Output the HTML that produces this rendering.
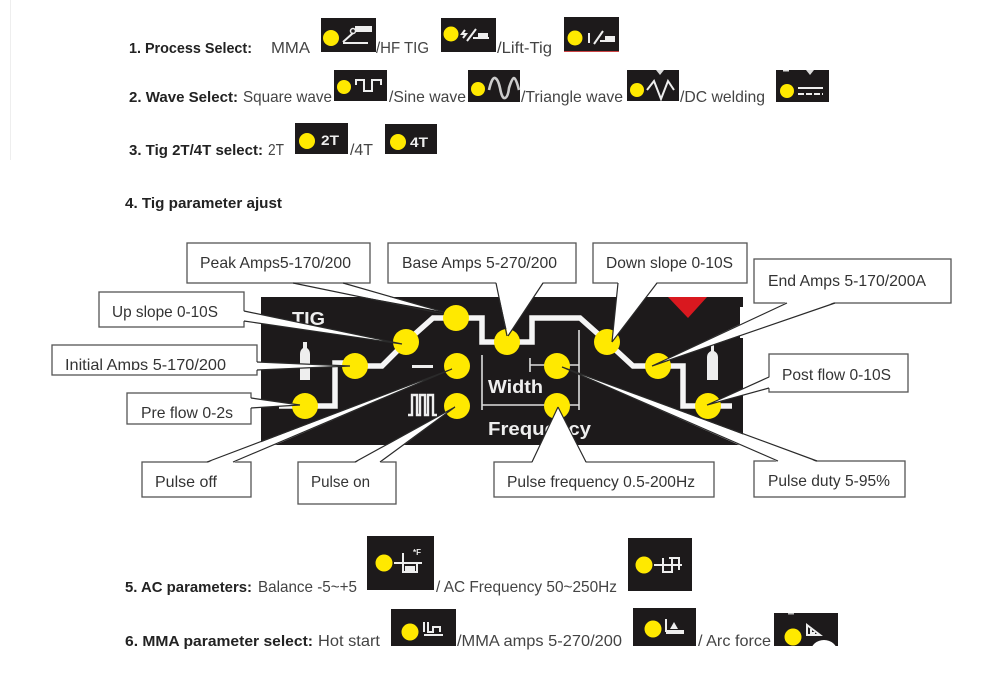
<!DOCTYPE html>
<html><head><meta charset="utf-8"><style>
html,body{margin:0;padding:0;background:#fff;width:1000px;height:690px;overflow:hidden}
svg{display:block;filter:blur(0.35px)}
text{font-family:"Liberation Sans",sans-serif}
.r{font-size:16px;fill:#444}
.b{font-size:15px;font-weight:bold;fill:#222}
.l{font-size:16px;fill:#333}
.k{fill:#1d1a1b}
.y{fill:#ffe900}
.box{fill:#fff;stroke:#555;stroke-width:1.3}
.w{fill:#fff;stroke:none}
.p{fill:none;stroke:#2a2a2a;stroke-width:1.2}
.s{fill:none;stroke:#eee;stroke-width:2}
.g{font-weight:bold;fill:#eee}
</style></head><body>
<svg width="1000" height="690" viewBox="0 0 1000 690" xmlns="http://www.w3.org/2000/svg">
<rect x="10" y="0" width="1" height="160" fill="#eee"/>

<!-- Header rows -->
<text class="b" x="129" y="53" textLength="123" lengthAdjust="spacingAndGlyphs">1. Process Select:</text>
<text class="r" x="271" y="53" textLength="39" lengthAdjust="spacingAndGlyphs">MMA</text>
<rect class="k" x="321" y="18" width="55" height="34"/><circle class="y" cx="331" cy="38" r="8"/>
<path class="s" d="M343 43h25M343 42l10-9"/><rect x="355" y="26" width="17" height="6" fill="#eee"/><circle cx="353" cy="31" r="2.5" fill="none" stroke="#eee" stroke-width="1.5"/>
<text class="r" x="376" y="53" textLength="53" lengthAdjust="spacingAndGlyphs">/HF TIG</text>
<rect class="k" x="441" y="18" width="55" height="34"/><circle class="y" cx="451" cy="34" r="7.5"/>
<path class="s" d="M465 30l-3 4h4l-3 4M467 41l9-12M473 38h16"/><rect x="478" y="33" width="10" height="5" fill="#eee"/>
<text class="r" x="497" y="53" textLength="55" lengthAdjust="spacingAndGlyphs">/Lift-Tig</text>
<rect class="k" x="564" y="17" width="55" height="35"/><rect x="564" y="51" width="55" height="1" fill="#c44"/><circle class="y" cx="575" cy="38" r="7.5"/>
<path class="s" d="M589 33v10M594 44l9-13M600 41h15"/><rect x="605" y="36" width="10" height="5" fill="#eee"/>

<text class="b" x="129" y="102" textLength="109" lengthAdjust="spacingAndGlyphs">2. Wave Select:</text>
<text class="r" x="243" y="102" textLength="89" lengthAdjust="spacingAndGlyphs">Square wave</text>
<rect class="k" x="334" y="70" width="53" height="31"/><circle class="y" cx="344" cy="87" r="7"/>
<path class="s" d="M356 85v-5h8v11h8v-11h9v5" stroke-width="2.4"/>
<text class="r" x="389" y="102" textLength="77" lengthAdjust="spacingAndGlyphs">/Sine wave</text>
<rect class="k" x="468" y="70" width="52" height="32"/><circle class="y" cx="478" cy="89" r="7"/>
<path d="M489 90q3-13 6-12t5 10q2 11 5 10t4-10q3-10 5-10t5 12" fill="none" stroke="#ccc" stroke-width="2.6"/>
<text class="r" x="521" y="102" textLength="102" lengthAdjust="spacingAndGlyphs">/Triangle wave</text>
<rect class="k" x="627" y="70" width="52" height="31"/><circle class="y" cx="637" cy="90" r="7"/>
<path class="s" d="M647 90l7-9 7 18 7-18 6 9" stroke-width="2.4"/><path d="M656 70h8l-4 5Z" fill="#ddd"/>
<text class="r" x="680" y="102" textLength="85" lengthAdjust="spacingAndGlyphs">/DC welding</text>
<rect class="k" x="776" y="70" width="53" height="32"/><circle class="y" cx="787" cy="91" r="7"/>
<path class="s" d="M798 88h25" stroke-width="3.5"/><path class="s" d="M798 94h25" stroke-width="2.5" stroke-dasharray="6 2"/><path d="M806 70h8l-4 5Z" fill="#ddd"/><rect x="783" y="70" width="6" height="1.5" fill="#ddd"/>

<text class="b" x="129" y="155" textLength="134" lengthAdjust="spacingAndGlyphs">3. Tig 2T/4T select:</text>
<text class="r" x="268" y="155" textLength="16" lengthAdjust="spacingAndGlyphs">2T</text>
<rect class="k" x="295" y="123" width="53" height="31"/><circle class="y" cx="307" cy="141" r="8"/>
<text class="g" x="321" y="145" font-size="14" textLength="18" lengthAdjust="spacingAndGlyphs">2T</text>
<text class="r" x="350" y="155" textLength="23" lengthAdjust="spacingAndGlyphs">/4T</text>
<rect class="k" x="385" y="124" width="52" height="30"/><circle class="y" cx="398" cy="142" r="8"/>
<text class="g" x="410" y="147" font-size="14" textLength="18" lengthAdjust="spacingAndGlyphs">4T</text>

<text class="b" x="125" y="208" textLength="157" lengthAdjust="spacingAndGlyphs">4. Tig parameter ajust</text>

<!-- Control panel -->
<path class="k" d="M261 297H743V307H740V338H743V445H261Z"/>
<path d="M668 297H707L688 318Z" fill="#d9181f"/>
<text class="g" x="292" y="325" font-size="18" textLength="33" lengthAdjust="spacingAndGlyphs">TIG</text>
<path d="M279 406H335V363H355M355 366H382L406 342L433 318H482V342H532V318H580L607 342L633 366H683V406H732" fill="none" stroke="#f5f5f5" stroke-width="5.5"/>
<path d="M303 342h4v6q3 2 3 6v26h-10v-26q0-4 3-6Z" fill="#eee"/>
<path d="M711 345h3v6q4 2 4 6v23h-11v-23q0-4 4-6Z" fill="#eee"/>
<rect x="412" y="365" width="21" height="3" fill="#eee"/>
<path d="M408 415h4v-20h5v20h3v-20h5v20h3v-20h5v20h4" fill="none" stroke="#eee" stroke-width="2.4"/>
<path d="M482 355V410M482 405H579M579 330V410M530 358V372M530 365H579" fill="none" stroke="#ddd" stroke-width="1.6"/>
<text class="g" x="488" y="393" font-size="18" textLength="55" lengthAdjust="spacingAndGlyphs">Width</text>
<text class="g" x="488" y="435" font-size="18" textLength="103" lengthAdjust="spacingAndGlyphs">Frequency</text>
<g class="y">
<circle cx="456" cy="318" r="13"/><circle cx="406" cy="342" r="13"/><circle cx="355" cy="366" r="13"/><circle cx="305" cy="406" r="13"/>
<circle cx="457" cy="366" r="13"/><circle cx="457" cy="406" r="13"/><circle cx="507" cy="342" r="13"/><circle cx="607" cy="342" r="13"/>
<circle cx="557" cy="366" r="13"/><circle cx="557" cy="406" r="13"/><circle cx="658" cy="366" r="13"/><circle cx="708" cy="406" r="13"/>
</g>

<!-- Callout boxes -->
<rect class="box" x="187" y="243" width="183" height="40"/>
<rect class="box" x="99" y="292" width="145" height="35"/>
<rect class="box" x="52" y="345" width="205" height="30"/>
<rect class="box" x="127" y="393" width="124" height="31"/>
<rect class="box" x="142" y="462" width="109" height="35"/>
<rect class="box" x="298" y="462" width="98" height="42"/>
<rect class="box" x="388" y="243" width="188" height="40"/>
<rect class="box" x="593" y="243" width="154" height="40"/>
<rect class="box" x="754" y="259" width="197" height="44"/>
<rect class="box" x="769" y="354" width="139" height="38"/>
<rect class="box" x="494" y="462" width="220" height="35"/>
<rect class="box" x="754" y="461" width="151" height="36"/>

<!-- Callout pointers -->
<path class="w" d="M293 284L343 284L444 312Z"/><path class="p" d="M293 283L444 314M343 283L444 312"/>
<path class="w" d="M243 311L243 321L402 344Z"/><path class="p" d="M244 311L402 344M244 321L402 344"/>
<path class="w" d="M256 362L256 370L350 366Z"/><path class="p" d="M257 362L350 366M257 370L350 366"/>
<path class="w" d="M250 398L250 408L300 405Z"/><path class="p" d="M251 398L300 405M251 408L300 405"/>
<path class="w" d="M207 463L233 463L452 369Z"/><path class="p" d="M207 462L452 369M233 462L452 369"/>
<path class="w" d="M355 463L380 463L455 407Z"/><path class="p" d="M355 462L455 407M380 462L455 407"/>
<path class="w" d="M496 282L543 282L508 336Z"/><path class="p" d="M496 283L507 336M543 283L508 336"/>
<path class="w" d="M618 282L657 282L612 342Z"/><path class="p" d="M618 283L612 342M657 283L612 342"/>
<path class="w" d="M787 302L835 302L652 366Z"/><path class="p" d="M787 303L652 366M835 303L652 366"/>
<path class="w" d="M770 377L770 388L707 405Z"/><path class="p" d="M769 377L707 405M769 388L707 405"/>
<path class="w" d="M532 463L586 463L558 407Z"/><path class="p" d="M532 462L558 407M586 462L558 407"/>
<path class="w" d="M778 462L817 462L562 367Z"/><path class="p" d="M778 461L562 367M817 461L562 367"/>

<!-- Callout labels -->
<text class="l" x="200" y="268" textLength="151" lengthAdjust="spacingAndGlyphs">Peak Amps5-170/200</text>
<text class="l" x="112" y="317" textLength="106" lengthAdjust="spacingAndGlyphs">Up slope 0-10S</text>
<text class="l" x="65" y="370" textLength="161" lengthAdjust="spacingAndGlyphs">Initial Amps 5-170/200</text>
<rect x="53" y="370" width="203" height="4" fill="#fff"/>
<text class="l" x="141" y="418" textLength="92" lengthAdjust="spacingAndGlyphs">Pre flow 0-2s</text>
<text class="l" x="155" y="487" textLength="62" lengthAdjust="spacingAndGlyphs">Pulse off</text>
<text class="l" x="311" y="487" textLength="59" lengthAdjust="spacingAndGlyphs">Pulse on</text>
<text class="l" x="402" y="268" textLength="155" lengthAdjust="spacingAndGlyphs">Base Amps 5-270/200</text>
<text class="l" x="606" y="268" textLength="127" lengthAdjust="spacingAndGlyphs">Down slope 0-10S</text>
<text class="l" x="768" y="286" textLength="158" lengthAdjust="spacingAndGlyphs">End Amps 5-170/200A</text>
<text class="l" x="782" y="380" textLength="109" lengthAdjust="spacingAndGlyphs">Post flow 0-10S</text>
<text class="l" x="507" y="487" textLength="188" lengthAdjust="spacingAndGlyphs">Pulse frequency 0.5-200Hz</text>
<text class="l" x="768" y="486" textLength="122" lengthAdjust="spacingAndGlyphs">Pulse duty 5-95%</text>

<!-- Footer rows -->
<text class="b" x="125" y="592" textLength="127" lengthAdjust="spacingAndGlyphs">5. AC parameters:</text>
<text class="r" x="258" y="592" textLength="99" lengthAdjust="spacingAndGlyphs">Balance -5~+5</text>
<rect class="k" x="367" y="536" width="67" height="54"/><circle class="y" cx="384" cy="563" r="8.5"/>
<path class="s" d="M394 563h28M403 553v19h14v-10"/><rect x="405" y="566" width="10" height="5" fill="#eee"/>
<text x="413" y="555" font-size="8" class="g">*F</text>
<text class="r" x="436" y="592" textLength="181" lengthAdjust="spacingAndGlyphs">/ AC Frequency 50~250Hz</text>
<rect class="k" x="628" y="538" width="64" height="53"/><circle class="y" cx="644" cy="565" r="8.5"/>
<path class="s" d="M654 565h28M663 558v14h9v-14M669 558h10v12"/>

<text class="b" x="125" y="646" textLength="188" lengthAdjust="spacingAndGlyphs">6. MMA parameter select:</text>
<text class="r" x="318" y="646" textLength="62" lengthAdjust="spacingAndGlyphs">Hot start</text>
<rect class="k" x="391" y="609" width="65" height="37"/><circle class="y" cx="410" cy="632" r="8.5"/>
<path class="s" d="M424 622v10M428 622v10h5v-5h7v5M424 635h19"/>
<text class="r" x="457" y="646" textLength="165" lengthAdjust="spacingAndGlyphs">/MMA amps 5-270/200</text>
<rect class="k" x="633" y="608" width="63" height="38"/><circle class="y" cx="653" cy="629" r="8.5"/>
<path class="s" d="M666 619v12h18M666 633h18"/><path d="M670 629l4-7 4 7Z" fill="#eee"/>
<text class="r" x="698" y="646" textLength="73" lengthAdjust="spacingAndGlyphs">/ Arc force</text>
<rect class="k" x="774" y="613" width="64" height="33"/><circle class="y" cx="793" cy="637" r="8.5"/>
<path class="s" d="M807 625v10h13zM811 629v4h4"/><ellipse cx="824" cy="651" rx="13" ry="11" fill="#fff"/>
<rect x="788" y="613" width="6" height="1.5" fill="#bbb"/>
<rect x="770" y="646" width="72" height="10" fill="#fff"/>
</svg>
</body></html>
